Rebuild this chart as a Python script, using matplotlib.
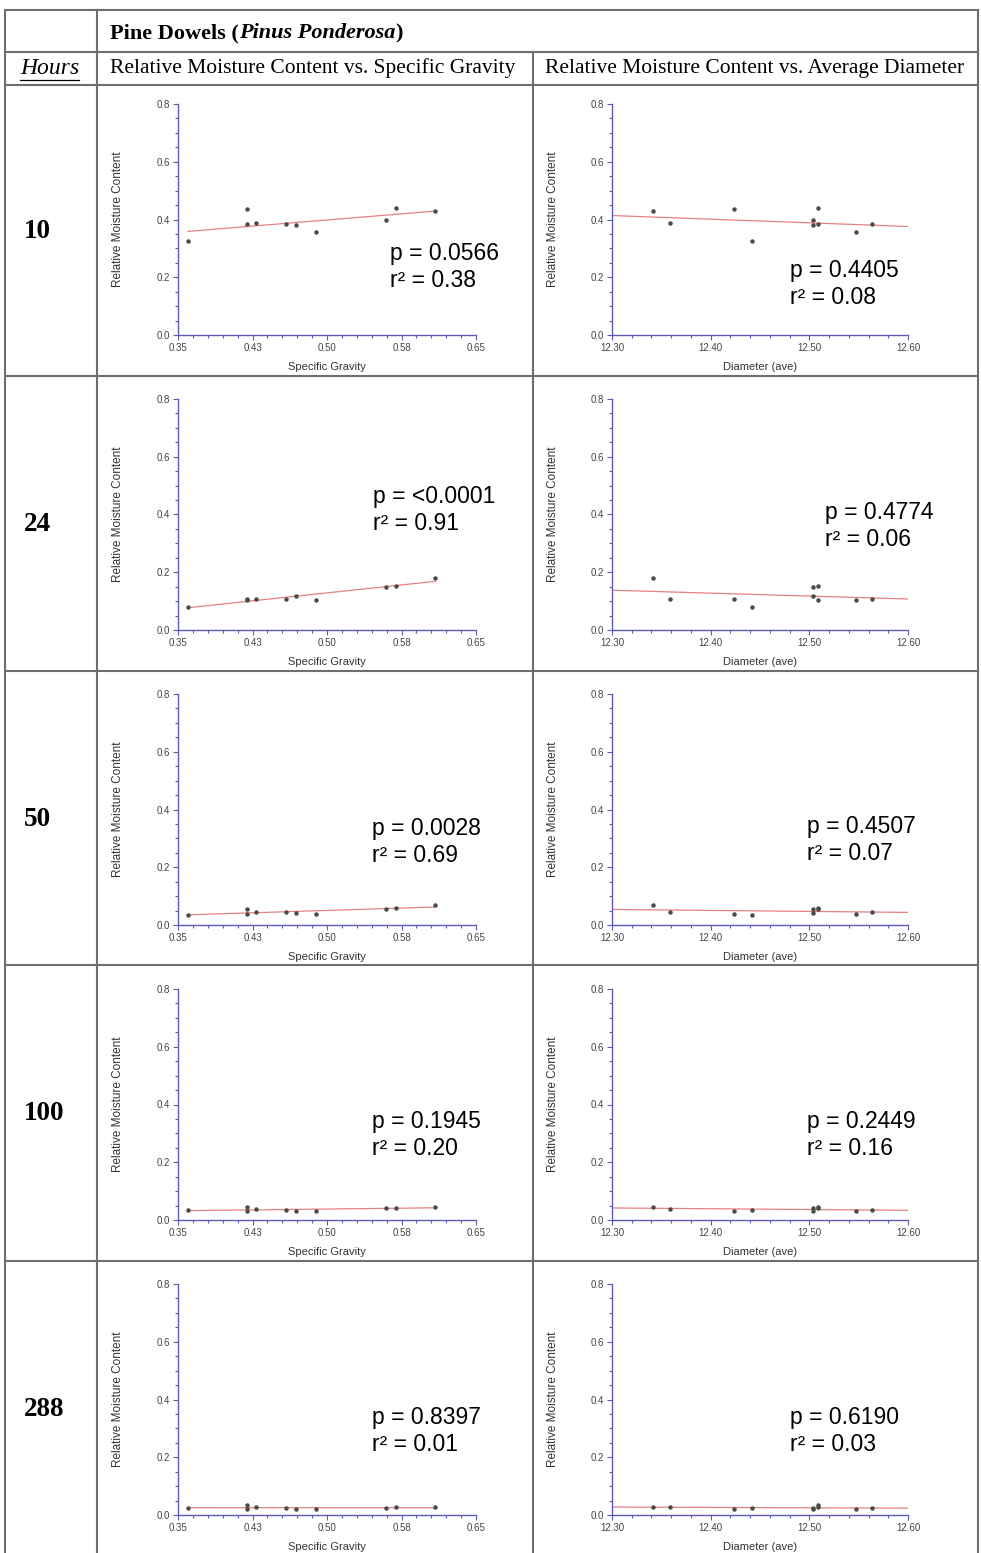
import numpy as np
import matplotlib
matplotlib.use("Agg")
import matplotlib.pyplot as plt
from matplotlib.lines import Line2D
from matplotlib.ticker import AutoMinorLocator, FixedLocator, FixedFormatter

# values (one entry per dowel)
hours = ["10", "24", "50", "100", "288"]
specific_gravity = [0.360, 0.419, 0.419, 0.429, 0.459, 0.469, 0.489, 0.559, 0.569, 0.609]
diameter = [12.442, 12.424, 12.509, 12.359, 12.564, 12.504, 12.547, 12.504, 12.509, 12.342]

rmc_10 = [0.325, 0.435, 0.385, 0.387, 0.385, 0.380, 0.357, 0.398, 0.439, 0.431]
rmc_24 = [0.079, 0.106, 0.104, 0.106, 0.107, 0.118, 0.104, 0.149, 0.152, 0.180]
rmc_50 = [0.036, 0.038, 0.054, 0.045, 0.044, 0.042, 0.039, 0.055, 0.060, 0.068]
rmc_100 = [0.033, 0.031, 0.044, 0.039, 0.034, 0.032, 0.030, 0.040, 0.042, 0.046]
rmc_288 = [0.024, 0.022, 0.034, 0.029, 0.024, 0.021, 0.021, 0.024, 0.027, 0.027]
moisture_rows = [rmc_10, rmc_24, rmc_50, rmc_100, rmc_288]

p_sg = ["0.0566", "<0.0001", "0.0028", "0.1945", "0.8397"]
r2_sg = ["0.38", "0.91", "0.69", "0.20", "0.01"]
p_diam = ["0.4405", "0.4774", "0.4507", "0.2449", "0.6190"]
r2_diam = ["0.08", "0.06", "0.07", "0.16", "0.03"]

sg_ticks = [0.35, 0.425, 0.50, 0.575, 0.65]
sg_tick_labels = ["0.35", "0.43", "0.50", "0.58", "0.65"]
diam_ticks = [12.30, 12.40, 12.50, 12.60]
diam_tick_labels = ["12.30", "12.40", "12.50", "12.60"]
rmc_ticks = [0.0, 0.2, 0.4, 0.6, 0.8]
rmc_tick_labels = ["0.0", "0.2", "0.4", "0.6", "0.8"]

W, H = 981, 1553
SERIF = "Liberation Serif"
SANS = "Liberation Sans"
AXIS_COL = "#5c5cb8"
GRID_COL = "#6e6e6e"

fig = plt.figure(figsize=(W / 100, H / 100), dpi=100)
fig.patch.set_facecolor("white")
renderer = fig.canvas.get_renderer()


def fx(x):
    return x / W


def fy(y):
    return 1 - y / H


def hline(y, x0, x1):
    fig.add_artist(Line2D([fx(x0), fx(x1)], [fy(y), fy(y)], color=GRID_COL, lw=1.5,
                          transform=fig.transFigure))


def vline(x, y0, y1):
    fig.add_artist(Line2D([fx(x), fx(x)], [fy(y0), fy(y1)], color=GRID_COL, lw=1.5,
                          transform=fig.transFigure))


# table grid
row_lines = [85, 376, 671, 965, 1261]
hline(10, 5, 978)
hline(52, 5, 978)
for y in row_lines:
    hline(y, 5, 978)
vline(5, 10, H)
vline(978, 10, H)
vline(97, 10, H)
vline(533, 52, H)

# header, written in pieces so the italic part sits inline
x = 110
for part, style in [("Pine Dowels (", "normal"), ("Pinus Ponderosa", "italic"), (")", "normal")]:
    t = fig.text(fx(x), fy(33), part, family=SERIF, weight="bold", style=style,
                 fontsize=16, ha="left", va="center")
    x += t.get_window_extent(renderer).width

t = fig.text(fx(20), fy(68), "Hours", family=SERIF, style="italic", fontsize=17,
             ha="left", va="center")
bb = t.get_window_extent(renderer)
fig.add_artist(Line2D([fx(bb.x0), fx(bb.x1)], [fy(80), fy(80)], color="black", lw=0.9,
                      transform=fig.transFigure))
fig.text(fx(110), fy(68), "Relative Moisture Content vs. Specific Gravity", family=SERIF,
         fontsize=15.5, ha="left", va="center")
fig.text(fx(545), fy(68), "Relative Moisture Content vs. Average Diameter", family=SERIF,
         fontsize=15.5, ha="left", va="center")

row_bottoms = row_lines[1:] + [1556]
for i, h in enumerate(hours):
    yc = (row_lines[i] + row_bottoms[i]) / 2
    fig.text(fx(24), fy(yc + 1), h, family=SERIF, weight="bold", fontsize=19.5,
             ha="left", va="center")

axes_tops = [104, 399, 694, 989, 1284]
axes_h = 231
stat_left = [(390, 267), (373, 510), (372, 842), (372, 1135), (372, 1431)]
stat_right = [(790, 284), (825, 526), (807, 840), (807, 1135), (790, 1431)]


def style_axes(ax, xticks, xlabels, xlabel):
    for s in ["top", "right"]:
        ax.spines[s].set_visible(False)
    for s in ["left", "bottom"]:
        ax.spines[s].set_color(AXIS_COL)
        ax.spines[s].set_linewidth(1.0)
    ax.set_ylim(0, 0.8)
    ax.yaxis.set_major_locator(FixedLocator(rmc_ticks))
    ax.yaxis.set_major_formatter(FixedFormatter(rmc_tick_labels))
    ax.yaxis.set_minor_locator(AutoMinorLocator(4))
    ax.xaxis.set_major_locator(FixedLocator(xticks))
    ax.xaxis.set_major_formatter(FixedFormatter(xlabels))
    ax.xaxis.set_minor_locator(AutoMinorLocator(5))
    ax.tick_params(which="both", direction="out", color=AXIS_COL, labelcolor="#444444",
                   labelsize=7, width=0.8)
    ax.tick_params(which="major", length=3.5, pad=2)
    ax.tick_params(which="minor", length=2)
    for lab in ax.get_xticklabels() + ax.get_yticklabels():
        lab.set_family(SANS)
    ax.set_ylabel("Relative Moisture Content", family=SANS, fontsize=8.5, color="#333333")
    ax.yaxis.set_label_coords(-0.18, 0.5)
    ax.set_xlabel(xlabel, family=SANS, fontsize=8, color="#333333")
    ax.xaxis.set_label_coords(0.5, -0.115)


for i, rmc in enumerate(moisture_rows):
    top = axes_tops[i]
    for j, (xv, left, right, xlim, ticks, labels, xlabel, p, r2, pos) in enumerate([
        (specific_gravity, 178, 476, (0.35, 0.65), sg_ticks, sg_tick_labels,
         "Specific Gravity", p_sg[i], r2_sg[i], stat_left[i]),
        (diameter, 612, 908, (12.30, 12.60), diam_ticks, diam_tick_labels,
         "Diameter (ave)", p_diam[i], r2_diam[i], stat_right[i]),
    ]):
        ax = fig.add_axes([fx(left), fy(top + axes_h), (right - left) / W, axes_h / H])
        ax.patch.set_alpha(0)
        xa = np.array(xv)
        ya = np.array(rmc)
        k, b = np.polyfit(xa, ya, 1)
        # left panels: fit drawn over the data range; right panels: over the full axis
        span = np.array([xa.min(), xa.max()]) if j == 0 else np.array(xlim)
        ax.plot(span, k * span + b, color="#e88080", lw=0.9, zorder=2)
        ax.plot(xa, ya, "o", ms=2.2, color="#4a4a4a", zorder=3)
        ax.set_xlim(*xlim)
        style_axes(ax, ticks, labels, xlabel)
        fig.text(fx(pos[0]), fy(pos[1]), f"p = {p}\nr\u00b2 = {r2}", family=SANS,
                 fontsize=16.5, ha="left", va="center", linespacing=1.2)

fig.savefig("out.png", dpi=100, facecolor="white")
